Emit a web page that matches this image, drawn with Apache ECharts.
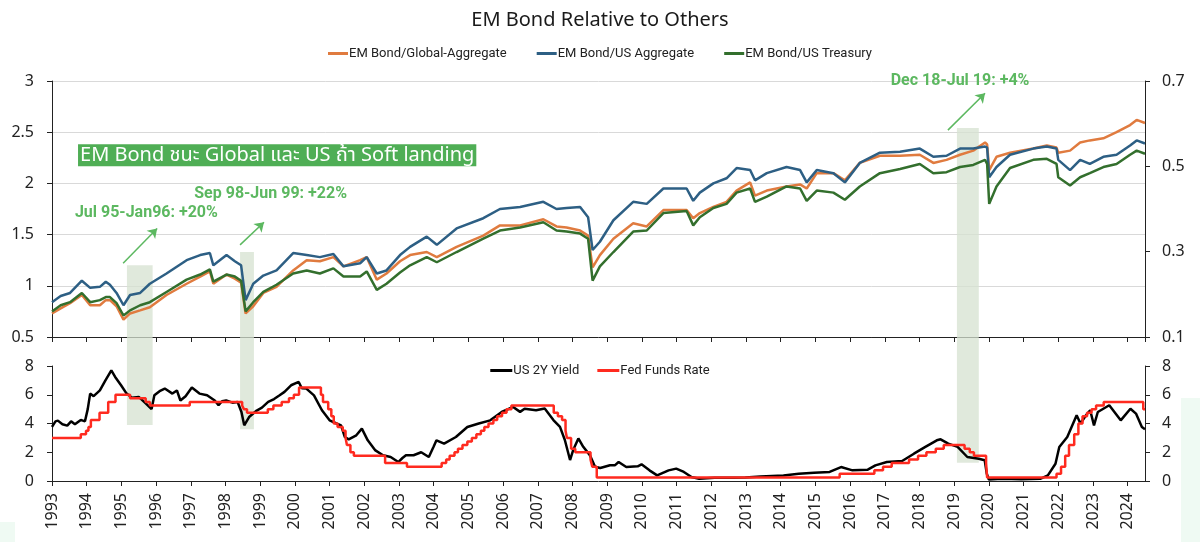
<!DOCTYPE html>
<html><head><meta charset="utf-8">
<script src="https://cdn.jsdelivr.net/npm/echarts/dist/echarts.min.js"></script>
<style>html,body{margin:0;padding:0;background:#fff}#c{width:1200px;height:542px}</style>
</head><body><div id="c"></div><script>
// ---------- top panel: EM bond relative performance ----------
const years1 = [1993.00,1993.25,1993.52,1993.86,1994.10,1994.38,1994.55,1994.67,1994.86,1995.06,1995.25,1995.54,1995.82,1996.30,1996.88,1997.27,1997.55,1997.65,1998.03,1998.27,1998.45,1998.58,1998.80,1999.09,1999.47,1999.95,2000.34,2000.72,2001.11,2001.40,2001.88,2002.07,2002.36,2002.64,2003.03,2003.32,2003.80,2004.09,2004.66,2005.43,2005.91,2006.49,2007.16,2007.54,2007.83,2008.22,2008.45,2008.58,2008.79,2009.18,2009.75,2010.14,2010.62,2011.29,2011.48,2011.67,2012.06,2012.44,2012.73,2013.12,2013.26,2013.60,2014.17,2014.56,2014.75,2015.04,2015.52,2015.85,2016.28,2016.86,2017.44,2018.01,2018.40,2018.78,2019.17,2019.55,2019.89,2019.95,2020.01,2020.22,2020.61,2021.28,2021.67,2021.95,2022.00,2022.34,2022.63,2022.91,2023.30,2023.68,2024.07,2024.26,2024.50];
const emGlobalAgg = [0.73,0.78,0.83,0.91,0.81,0.81,0.86,0.86,0.80,0.67,0.73,0.76,0.79,0.91,1.02,1.09,1.14,1.02,1.11,1.07,1.03,0.73,0.80,0.93,0.99,1.15,1.25,1.24,1.28,1.19,1.25,1.28,1.06,1.12,1.24,1.30,1.33,1.28,1.38,1.49,1.59,1.59,1.65,1.58,1.57,1.54,1.49,1.18,1.30,1.46,1.61,1.58,1.74,1.74,1.66,1.71,1.77,1.82,1.93,2.01,1.88,1.93,1.97,1.99,1.95,2.10,2.10,2.03,2.20,2.27,2.27,2.28,2.20,2.23,2.28,2.32,2.40,2.38,2.13,2.26,2.30,2.34,2.37,2.35,2.30,2.32,2.40,2.42,2.44,2.50,2.57,2.62,2.59];
const emUSAgg = [0.84,0.90,0.93,1.05,0.98,0.99,1.04,1.01,0.93,0.81,0.91,0.93,1.02,1.12,1.25,1.30,1.32,1.20,1.30,1.24,1.20,0.86,1.02,1.10,1.15,1.32,1.30,1.28,1.31,1.19,1.22,1.28,1.12,1.15,1.30,1.38,1.48,1.40,1.56,1.66,1.75,1.77,1.82,1.75,1.76,1.77,1.67,1.35,1.43,1.64,1.82,1.80,1.95,1.95,1.83,1.91,2.00,2.05,2.15,2.13,2.03,2.10,2.16,2.13,2.01,2.13,2.10,2.01,2.20,2.30,2.31,2.34,2.26,2.27,2.34,2.34,2.36,2.35,2.06,2.16,2.28,2.34,2.36,2.34,2.23,2.13,2.23,2.19,2.26,2.28,2.37,2.42,2.39];
const emUSTreasury = [0.75,0.81,0.84,0.93,0.84,0.86,0.89,0.89,0.83,0.71,0.76,0.81,0.84,0.94,1.06,1.11,1.16,1.04,1.11,1.09,1.05,0.75,0.84,0.94,1.01,1.12,1.15,1.12,1.17,1.09,1.09,1.14,0.96,1.02,1.13,1.20,1.28,1.23,1.33,1.46,1.54,1.57,1.62,1.54,1.53,1.51,1.46,1.05,1.19,1.33,1.53,1.54,1.71,1.73,1.59,1.67,1.76,1.80,1.91,1.95,1.82,1.87,1.97,1.95,1.83,1.93,1.91,1.84,1.97,2.10,2.14,2.19,2.10,2.11,2.16,2.18,2.23,2.19,1.80,1.97,2.15,2.23,2.24,2.19,2.06,1.98,2.06,2.10,2.16,2.19,2.28,2.32,2.29];
const leftTicks = {min: 0.5, max: 3, step: 0.5};
const rightTicks = {min: 0.1, max: 0.7, step: 0.2};

// ---------- bottom panel: rates ----------
const years2 = [1993.00,1993.10,1993.17,1993.30,1993.44,1993.55,1993.66,1993.83,1993.95,1994.03,1994.10,1994.20,1994.38,1994.54,1994.71,1994.82,1994.99,1995.15,1995.30,1995.50,1995.70,1995.87,1995.95,1996.10,1996.25,1996.47,1996.60,1996.70,1996.85,1997.03,1997.25,1997.47,1997.69,1997.80,1997.90,1998.02,1998.20,1998.35,1998.46,1998.54,1998.68,1998.90,1999.05,1999.23,1999.40,1999.56,1999.70,1999.89,2000.11,2000.20,2000.33,2000.55,2000.78,2001.00,2001.20,2001.33,2001.44,2001.55,2001.60,2001.77,2001.93,2002.10,2002.32,2002.54,2002.76,2002.98,2003.10,2003.20,2003.42,2003.64,2003.86,2004.00,2004.08,2004.30,2004.64,2004.97,2005.30,2005.63,2005.96,2006.29,2006.49,2006.62,2006.95,2007.20,2007.45,2007.64,2007.78,2007.93,2008.02,2008.17,2008.31,2008.50,2008.65,2008.80,2009.08,2009.22,2009.33,2009.55,2009.88,2009.99,2010.22,2010.44,2010.77,2010.99,2011.21,2011.43,2011.65,2012.09,2012.65,2012.98,2013.42,2013.75,2014.08,2014.52,2014.96,2015.41,2015.74,2016.07,2016.51,2016.73,2017.06,2017.50,2017.84,2018.17,2018.50,2018.61,2018.83,2019.10,2019.38,2019.71,2019.88,2019.94,2020.00,2020.38,2020.93,2021.48,2021.70,2021.92,2022.03,2022.26,2022.53,2022.64,2022.80,2022.92,2023.03,2023.14,2023.47,2023.80,2024.08,2024.24,2024.41,2024.50];
const us2y = [3.76,4.15,4.20,3.95,3.85,4.15,3.95,4.25,4.15,5.00,6.08,5.90,6.30,7.00,7.70,7.24,6.66,6.08,5.80,5.85,5.40,5.00,5.96,6.25,6.43,6.08,6.30,5.60,5.90,6.50,6.08,5.96,5.60,5.27,5.55,5.60,5.45,5.50,4.80,3.87,4.45,4.90,5.10,5.50,5.70,5.96,6.20,6.66,6.89,6.45,6.43,5.96,4.92,4.22,4.00,3.87,3.06,2.90,2.83,3.18,3.64,2.83,2.13,1.79,1.67,1.32,1.60,1.79,1.79,2.00,1.67,2.40,2.83,2.60,3.06,3.76,4.00,4.22,4.80,5.15,4.81,5.03,4.92,5.05,4.24,3.77,2.85,1.46,2.15,2.96,2.38,1.80,0.99,0.90,1.10,1.09,1.32,0.97,1.02,1.16,0.74,0.39,0.74,0.86,0.63,0.28,0.16,0.23,0.23,0.25,0.32,0.35,0.38,0.50,0.58,0.63,0.97,0.74,0.79,1.09,1.32,1.39,1.90,2.37,2.83,2.90,2.60,2.37,1.67,1.55,1.44,0.51,0.10,0.15,0.12,0.15,0.39,1.20,2.37,3.06,4.57,4.00,4.57,4.92,3.87,4.80,5.27,4.22,5.03,4.69,3.76,3.60];
const fedYears = [1993.00,1993.83,1993.98,1994.05,1994.12,1994.37,1994.62,1994.83,1995.25,1995.70,1995.82,1996.97,1998.48,1998.53,1998.62,1999.22,1999.38,1999.62,1999.83,1999.97,2000.12,2000.75,2000.81,2000.96,2001.05,2001.12,2001.23,2001.38,2001.46,2001.50,2001.60,2001.70,2002.60,2003.23,2004.23,2004.36,2004.46,2004.60,2004.70,2004.83,2004.97,2005.10,2005.23,2005.36,2005.46,2005.58,2005.72,2005.83,2005.97,2006.10,2006.24,2007.46,2007.58,2007.70,2007.80,2007.84,2007.96,2008.08,2008.52,2008.57,2008.70,2015.70,2016.70,2016.95,2017.20,2017.70,2017.96,2018.20,2018.47,2018.70,2019.30,2019.45,2019.57,2019.92,2019.95,2021.95,2022.08,2022.20,2022.31,2022.46,2022.58,2022.70,2022.83,2022.96,2023.09,2023.31,2024.45,2024.50];
const fedRate = [3.00,3.25,3.50,3.75,4.25,4.75,5.50,6.00,5.75,5.50,5.25,5.50,5.25,5.00,4.75,5.00,5.25,5.50,5.75,6.00,6.50,6.00,5.50,5.00,4.50,4.00,3.75,3.50,3.00,2.50,2.00,1.75,1.25,1.00,1.25,1.50,1.75,2.00,2.25,2.50,2.75,3.00,3.25,3.50,3.75,4.00,4.25,4.50,4.75,5.00,5.25,4.75,4.50,4.25,3.50,3.00,2.25,2.00,1.50,1.00,0.25,0.50,0.75,1.00,1.25,1.50,1.75,2.00,2.25,2.50,2.25,2.00,1.75,1.25,0.25,0.50,1.00,1.75,2.50,3.25,4.00,4.50,4.75,5.00,5.25,5.50,5.00,5.00];
const rateTicks = {min: 0, max: 8, step: 2};
const xRange = {min: 1993, max: 2024.5, step: 1};

// ---------- annotations ----------
const shadeStart = [1995.16, 1998.42, 2019.08];
const shadeEnd = [1995.90, 1998.82, 2019.71];
const shadeTopVal = [1.20, 1.33, 2.54];      // top panel value
const shadeBottomVal = [3.9, 3.6, 1.27];     // bottom panel value
const arrowFromX = [1995.05, 1998.42, 2018.82];
const arrowFromY = [1.22, 1.40, 2.52];
const arrowToX = [1996.03, 1999.11, 2019.89];
const arrowToY = [1.56, 1.62, 2.88];
const noteTexts = ['Jul 95-Jan96: +20%', 'Sep 98-Jun 99: +22%', 'Dec 18-Jul 19: +4%'];
const noteX = [1995.72, 1999.30, 2019.17];
const noteY = [1.71, 1.90, 3.0];
const boxText = 'EM Bond ชนะ Global และ US ถ้า Soft landing';
const boxAt = [1993.75, 2.275];

const names = ['EM Bond/Global-Aggregate', 'EM Bond/US Aggregate', 'EM Bond/US Treasury'];
const colors = ['#e07b3f', '#2d5f84', '#336f2d'];
const FONT = '"Noto Sans", "Roboto", "DejaVu Sans", sans-serif';
const noteColor = '#5cb860';

const zip = (a, b) => a.map((v, i) => [v, b[i]]);

const chart = echarts.init(document.getElementById('c'));
const axisCommon = {
  axisLine: {show: true, lineStyle: {color: '#222', width: 1}},
  axisTick: {show: true, inside: false, length: 5, lineStyle: {color: '#222'}},
  axisLabel: {color: '#222', fontSize: 16, fontFamily: FONT, margin: 18}
};
const option = {
  animation: false,
  backgroundColor: '#fff',
  textStyle: {fontFamily: FONT},
  title: {text: 'EM Bond Relative to Others', left: 'center', top: 5,
    textStyle: {fontSize: 20, fontWeight: 'normal', color: '#1a1a1a', fontFamily: FONT}},
  legend: [
    {data: names, top: 42, left: 'center', itemWidth: 20, itemHeight: 3, itemGap: 30, icon: 'rect',
      textStyle: {fontSize: 13, color: '#222', fontFamily: 'Roboto', padding: [0, 0, 0, -4]}},
    {data: ['US 2Y Yield', 'Fed Funds Rate'], top: 359, left: 'center', itemWidth: 22, itemHeight: 3, itemGap: 18, icon: 'rect',
      textStyle: {fontSize: 13, color: '#222', fontFamily: 'Roboto', padding: [0, 0, 0, -4]}}
  ],
  grid: [
    {left: 52, right: 55, top: 81, height: 256},
    {left: 52, right: 55, top: 366, height: 115}
  ],
  xAxis: [
    Object.assign({}, axisCommon, {type: 'value', gridIndex: 0, min: xRange.min, max: xRange.max, interval: xRange.step,
      axisLabel: {show: false}, splitLine: {show: false}}),
    Object.assign({}, axisCommon, {type: 'value', gridIndex: 1, min: xRange.min, max: xRange.max, interval: xRange.step,
      splitLine: {show: false},
      axisLabel: {color: '#222', fontSize: 16, fontFamily: FONT, rotate: 90, margin: 12, showMaxLabel: false,
        formatter: v => (Math.abs(v - Math.round(v)) < 1e-6 ? String(Math.round(v)) : '')}})
  ],
  yAxis: [
    Object.assign({}, axisCommon, {type: 'value', gridIndex: 0, position: 'left', min: leftTicks.min, max: leftTicks.max, interval: leftTicks.step,
      splitLine: {show: true, lineStyle: {color: '#d9d9d9', width: 1}}}),
    Object.assign({}, axisCommon, {type: 'value', gridIndex: 0, position: 'right', min: rightTicks.min, max: rightTicks.max, interval: rightTicks.step,
      splitLine: {show: false}, alignTicks: false,
      axisLabel: {color: '#222', fontSize: 16, fontFamily: FONT, margin: 17, formatter: v => v.toFixed(1)}}),
    Object.assign({}, axisCommon, {type: 'value', gridIndex: 1, position: 'left', min: rateTicks.min, max: rateTicks.max, interval: rateTicks.step,
      splitLine: {show: false}}),
    Object.assign({}, axisCommon, {type: 'value', gridIndex: 1, position: 'right', min: rateTicks.min, max: rateTicks.max, interval: rateTicks.step,
      splitLine: {show: false}, axisLabel: {color: '#222', fontSize: 16, fontFamily: FONT, margin: 17}})
  ],
  series: [
    {name: names[0], type: 'line', xAxisIndex: 0, yAxisIndex: 0, data: zip(years1, emGlobalAgg), showSymbol: false, symbol: 'none',
      lineStyle: {color: colors[0], width: 2.5}, itemStyle: {color: colors[0]}, z: 3},
    {name: names[1], type: 'line', xAxisIndex: 0, yAxisIndex: 0, data: zip(years1, emUSAgg), showSymbol: false, symbol: 'none',
      lineStyle: {color: colors[1], width: 2.5}, itemStyle: {color: colors[1]}, z: 4},
    {name: names[2], type: 'line', xAxisIndex: 0, yAxisIndex: 0, data: zip(years1, emUSTreasury), showSymbol: false, symbol: 'none',
      lineStyle: {color: colors[2], width: 2.5}, itemStyle: {color: colors[2]}, z: 5},
    {name: 'US 2Y Yield', type: 'line', xAxisIndex: 1, yAxisIndex: 2, data: zip(years2, us2y), showSymbol: false, symbol: 'none',
      lineStyle: {color: '#000', width: 2.5}, itemStyle: {color: '#000'}, z: 4},
    {name: 'Fed Funds Rate', type: 'line', xAxisIndex: 1, yAxisIndex: 2, data: zip(fedYears, fedRate), step: 'end', showSymbol: false, symbol: 'none',
      lineStyle: {color: '#ff2a1f', width: 2.5}, itemStyle: {color: '#ff2a1f'}, z: 5},
    {type: 'lines', coordinateSystem: 'cartesian2d', xAxisIndex: 0, yAxisIndex: 0, silent: true, z: 6,
      symbol: ['none', 'arrow'], symbolSize: 9,
      lineStyle: {color: noteColor, width: 1.5, opacity: 1},
      data: arrowFromX.map((x, i) => ({coords: [[x, arrowFromY[i]], [arrowToX[i], arrowToY[i]]]}))}
  ]
};
chart.setOption(option);

function pxTop(x, y) { return chart.convertToPixel({xAxisIndex: 0, yAxisIndex: 0}, [x, y]); }
function pxBot(x, y) { return chart.convertToPixel({xAxisIndex: 1, yAxisIndex: 2}, [x, y]); }

const graphics = [];
shadeStart.forEach((s, i) => {
  const a = pxTop(s, shadeTopVal[i]);
  const b = pxBot(shadeEnd[i], shadeBottomVal[i]);
  graphics.push({type: 'rect', z: 1, silent: true,
    shape: {x: a[0], y: a[1], width: b[0] - a[0], height: b[1] - a[1]},
    style: {fill: 'rgba(214,225,208,0.75)'}});
});
noteTexts.forEach((t, i) => {
  const p = pxTop(noteX[i], noteY[i]);
  graphics.push({type: 'text', z: 10, silent: true, x: p[0], y: p[1],
    style: {text: t, fill: noteColor, font: 'bold 16px Roboto, "Noto Sans", sans-serif', align: 'center', verticalAlign: 'middle'}});
});
const bp = pxTop(boxAt[0], boxAt[1]);
graphics.push({type: 'text', z: 10, silent: true, x: bp[0], y: bp[1],
  style: {text: boxText, fill: '#ffffff', font: '20px "Noto Sans", "Noto Sans Thai", "DejaVu Sans", sans-serif',
    backgroundColor: '#4fae55', padding: [1, 2, 1, 2], align: 'left', verticalAlign: 'middle'}});
// faint tint patches at the picture edges
graphics.push({type: 'rect', z: 0, silent: true, shape: {x: 1181, y: 398, width: 19, height: 144}, style: {fill: '#effaf3'}});
graphics.push({type: 'rect', z: 0, silent: true, shape: {x: 0, y: 522, width: 15, height: 20}, style: {fill: '#effaf3'}});
chart.setOption({graphic: graphics});
</script></body></html>
